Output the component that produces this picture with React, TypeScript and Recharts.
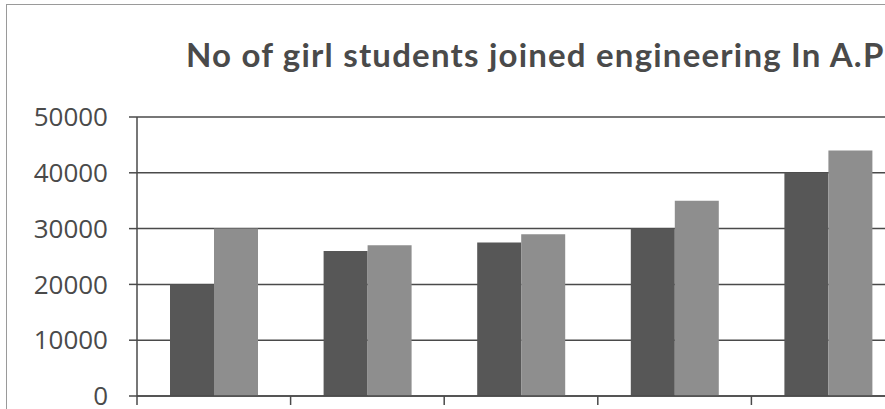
import React from "react";
import { BarChart, Bar, XAxis, YAxis, CartesianGrid } from "recharts";

const categories = ["2008", "2009", "2010", "2011", "2012"];
const seriesA = [20000, 26000, 27500, 30000, 40000];
const seriesB = [30000, 27000, 29000, 35000, 44000];
const yTicks = [0, 10000, 20000, 30000, 40000, 50000];
const title = "No of girl students joined engineering In A.P";

const data = categories.map((c, i) => ({ name: c, a: seriesA[i], b: seriesB[i] }));

const BoundaryTick = (props: any) => {
  const { x, y, payload } = props;
  const off = payload && typeof payload.offset === "number" ? payload.offset : 0;
  const bx = x - off;
  return <line x1={bx} x2={bx} y1={y} y2={y + 9} stroke="#4a4a4a" strokeWidth={1.5} />;
};

export default function App() {
  return (
    <div
      style={{
        position: "absolute",
        left: 0,
        top: 0,
        width: 885,
        height: 409,
        overflow: "hidden",
        background: "#fff",
      }}
    >
      <div
        style={{
          position: "absolute",
          left: 6,
          top: 4,
          width: 1200,
          height: 600,
          border: "1px solid #9a9a9a",
        }}
      />
      <div
        style={{
          position: "absolute",
          left: 186,
          top: 34,
          whiteSpace: "nowrap",
          fontFamily: "Lato, 'Open Sans', sans-serif",
          fontWeight: 700,
          fontSize: 33,
          letterSpacing: 1.2,
          color: "#4a4a4a",
        }}
      >
        {title}
      </div>
      <div style={{ position: "absolute", left: 0, top: 0 }}>
        <BarChart
          width={920}
          height={430}
          data={data}
          margin={{ top: 117, right: 15, left: 0, bottom: 4 }}
          barGap={0}
          barSize={44}
        >
          <CartesianGrid
            horizontal={true}
            vertical={false}
            stroke="#4a4a4a"
            strokeWidth={1.5}
          />
          <XAxis
            dataKey="name"
            height={30}
            interval={0}
            axisLine={{ stroke: "#4a4a4a", strokeWidth: 1.5 }}
            tickLine={false}
            tickSize={0}
            tickMargin={0}
            tick={BoundaryTick}
          />
          <YAxis
            width={137}
            domain={[0, 50000]}
            ticks={yTicks}
            interval={0}
            axisLine={{ stroke: "#4a4a4a", strokeWidth: 1.5 }}
            tickLine={{ stroke: "#4a4a4a", strokeWidth: 1.5 }}
            tickSize={8}
            tickMargin={21}
            tick={{ fill: "#4a4a4a", fontSize: 26, fontFamily: "'Open Sans', sans-serif" }}
          />
          <Bar dataKey="a" fill="#575757" isAnimationActive={false} />
          <Bar dataKey="b" fill="#8e8e8e" isAnimationActive={false} />
        </BarChart>
      </div>
    </div>
  );
}
